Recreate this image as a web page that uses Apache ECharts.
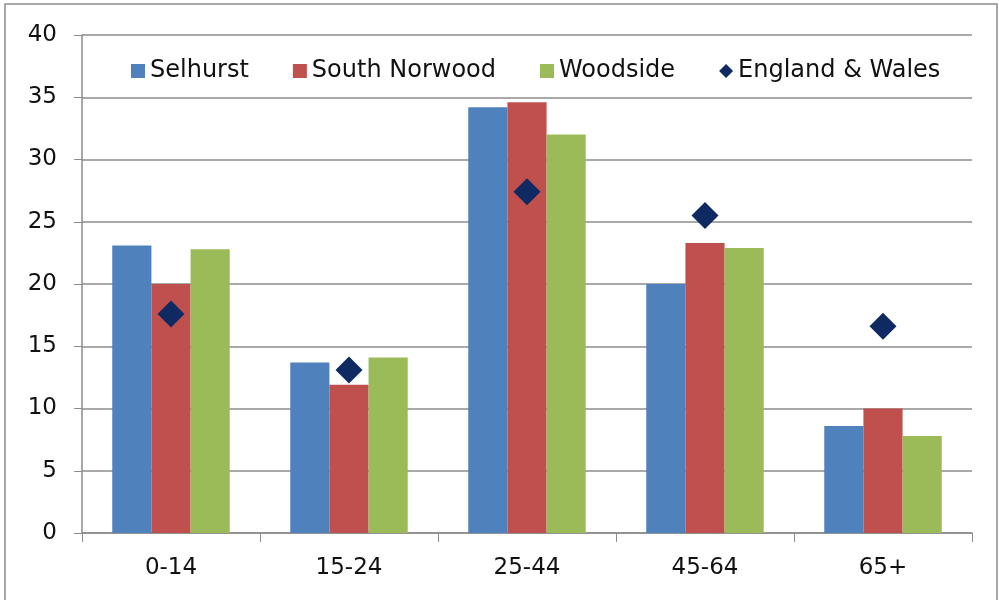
<!DOCTYPE html>
<html><head><meta charset="utf-8">
<style>html,body{margin:0;padding:0;background:#fff}#c{width:999px;height:600px}</style>
<script src="https://cdn.jsdelivr.net/npm/echarts@6/dist/echarts.min.js"></script>
</head><body><div id="c"></div>
<script>
const categories = ['0-14','15-24','25-44','45-64','65+'];
const selhurst = [23.1, 13.7, 34.2, 20.0, 8.6];
const southNorwood = [20.0, 11.9, 34.6, 23.3, 10.0];
const woodside = [22.8, 14.1, 32.0, 22.9, 7.8];
const englandWales = [17.6, 13.1, 27.4, 25.5, 16.6];
const yTicks = {min: 0, max: 40, interval: 5};

const font = 'DejaVu Sans';
const chart = echarts.init(document.getElementById('c'));
chart.setOption({
  animation: false,
  backgroundColor: '#fff',
  graphic: [{type:'rect', shape:{x:5,y:4,width:992,height:640}, style:{fill:'none', stroke:'#8c8c8c', lineWidth:1.5}, silent:true}],
  grid: {left: 82, right: 27, top: 35, bottom: 67},
  legend: {
    top: 54, left: 126, itemWidth: 14, itemHeight: 14, itemGap: 44,
    textStyle: {fontFamily: font, fontSize: 24, color: '#111'},
    data: [
      {name:'Selhurst', icon:'rect'},
      {name:'South Norwood', icon:'rect'},
      {name:'Woodside', icon:'rect'},
      {name:'England & Wales', icon:'diamond'}
    ]
  },
  xAxis: {
    type: 'category', data: categories,
    axisLine: {lineStyle: {color: '#8c8c8c', width: 1.5}},
    axisTick: {show: true, length: 9, lineStyle: {color: '#8c8c8c'}},
    axisLabel: {fontFamily: font, fontSize: 23, color: '#111', margin: 24}
  },
  yAxis: {
    type: 'value', min: yTicks.min, max: yTicks.max, interval: yTicks.interval,
    axisLine: {show: true, lineStyle: {color: '#8c8c8c', width: 1.5}},
    axisTick: {show: true, length: 8, lineStyle: {color: '#8c8c8c'}},
    splitLine: {lineStyle: {color: '#8c8c8c', width: 1.5}},
    axisLabel: {fontFamily: font, fontSize: 23, color: '#111', margin: 25}
  },
  series: [
    {name:'Selhurst', type:'bar', data: selhurst, itemStyle:{color:'#4F81BD'}, barGap:'0%', barCategoryGap:'34%'},
    {name:'South Norwood', type:'bar', data: southNorwood, itemStyle:{color:'#C0504D'}},
    {name:'Woodside', type:'bar', data: woodside, itemStyle:{color:'#9BBB59'}},
    {name:'England & Wales', type:'scatter', data: englandWales, symbol:'diamond', symbolSize:[27,27], itemStyle:{color:'#0F2A63', opacity:1}, z: 5}
  ]
});
</script></body></html>
